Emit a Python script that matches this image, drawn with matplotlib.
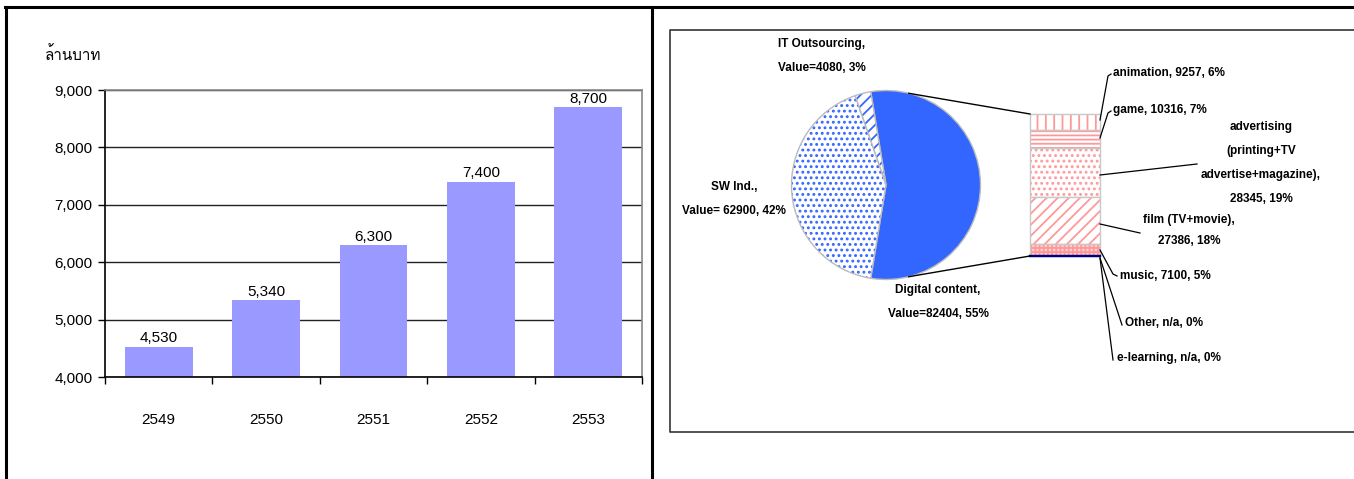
import numpy as np
import matplotlib
matplotlib.use('Agg')
import matplotlib.pyplot as plt
from matplotlib import font_manager
from matplotlib.lines import Line2D
from matplotlib.patches import Wedge
from fontTools.ttLib import TTFont

# bar chart data
years = ['2549', '2550', '2551', '2552', '2553']
revenue = [4530, 5340, 6300, 7400, 8700]
unit_label = 'ล้านบาท'

# pie data (ordered counter-clockwise from the bottom)
pie_names = ['Digital content', 'IT Outsourcing', 'SW Ind.']
pie_values = [82404, 4080, 62900]
pie_labels = ['Digital content,\nValue=82404, 55%',
              'IT Outsourcing,\nValue=4080, 3%',
              'SW Ind.,\nValue= 62900, 42%']

# breakdown of digital content (top to bottom in the bar)
sub_names = ['animation', 'game', 'advertising', 'film', 'music', 'Other', 'e-learning']
sub_values = [9257, 10316, 28345, 27386, 7100, 0, 0]
sub_labels = ['animation, 9257, 6%',
              'game, 10316, 7%',
              'advertising\n(printing+TV\nadvertise+magazine),\n28345, 19%',
              'film (TV+movie),\n27386, 18%',
              'music, 7100, 5%',
              'Other, n/a, 0%',
              'e-learning, n/a, 0%']


def find_thai_font():
    for f in font_manager.fontManager.ttflist:
        try:
            tt = TTFont(f.fname, fontNumber=0, lazy=True)
            if 0x0E25 in tt.getBestCmap():
                return f.name
        except Exception:
            pass
    return 'DejaVu Sans'


thai_font = find_thai_font()
plt.rcParams['font.family'] = ['Liberation Sans', thai_font, 'DejaVu Sans']
plt.rcParams['hatch.linewidth'] = 1.3

W, H = 1354, 479
fig = plt.figure(figsize=(W / 100, H / 100), dpi=100)


def fx(px):
    return px / W


def fy(py):
    return 1 - py / H


# outer frame and divider
for xs, ys in [([5, W + 5], [7, 7]), ([6, 6], [7, H + 5]), ([652, 652], [7, H + 5])]:
    fig.add_artist(Line2D([fx(x) for x in xs], [fy(y) for y in ys], color='black', lw=2.2))
# right panel box (runs off the right edge)
fig.add_artist(Line2D([fx(W + 5), fx(670), fx(670), fx(W + 5)],
                      [fy(30), fy(30), fy(432), fy(432)], color='#333333', lw=1.2))

# ---------------- bar chart ----------------
ax = fig.add_axes([fx(105), fy(377), fx(642) - fx(105), fy(90) - fy(377)])
x = np.arange(len(years))
bars = ax.bar(x, revenue, width=0.63, color='#9999FF', zorder=2)
ax.bar_label(bars, labels=[f'{v:,}' for v in revenue], padding=1, fontsize=11)
ax.set_ylim(4000, 9000)
ax.set_xlim(-0.5, len(years) - 0.5)
ax.set_yticks(np.arange(4000, 9001, 1000))
ax.set_yticklabels([f'{v:,}' for v in range(4000, 9001, 1000)], fontsize=11)
ax.yaxis.grid(True, color='#222222', lw=1)
ax.set_xticks(np.arange(-0.5, len(years)), [''] * (len(years) + 1))
ax.set_xticks(x, years, minor=True, fontsize=11)
ax.tick_params(axis='x', which='major', length=5, width=1, direction='out')
ax.tick_params(axis='x', which='minor', length=0, pad=26)
ax.tick_params(axis='y', length=5, width=1, direction='out', pad=4)
for side in ['top', 'right']:
    ax.spines[side].set_color('#888888')
    ax.spines[side].set_linewidth(1.2)
for side in ['left', 'bottom']:
    ax.spines[side].set_linewidth(1.2)
fig.text(fx(45), fy(55), unit_label, fontsize=11, va='center', ha='left')

# ---------------- bar of pie ----------------
X0, X1, Y0, Y1 = 670, W, 30, 432
pax = fig.add_axes([fx(X0), fy(Y1), fx(X1) - fx(X0), fy(Y0) - fy(Y1)])
pax.set_xlim(X0, X1)
pax.set_ylim(Y1, Y0)  # image-like coordinates, y downward
pax.axis('off')

cx, cy, r = 886, 185, 94.5
blue = '#3366FF'
fills = [dict(facecolor=blue, hatch=None), dict(facecolor='white', hatch='///'),
         dict(facecolor='white', hatch='...')]
total = sum(pie_values)
start = -99.3
# y axis points down, so mirror angles to keep counter-clockwise order on screen
for val, st in zip(pie_values, fills):
    span = 360 * val / total
    t1, t2 = -(start + span), -start
    pax.add_patch(Wedge((cx, cy), r, t1, t2, facecolor=st['facecolor'], hatch=st['hatch'],
                        edgecolor=blue, lw=0))
    pax.add_patch(Wedge((cx, cy), r, t1, t2, facecolor='none', edgecolor='#BBBBBB', lw=1))
    start += span

pie_label_pos = [(938, 302), (822, 56), (734, 199)]
for txt, (tx, ty) in zip(pie_labels, pie_label_pos):
    pax.text(tx, ty, txt, ha='center', va='center', fontsize=8.5, fontweight='bold',
             linespacing=2.3)

# stacked bar for the digital content breakdown
bx0, bx1, btop, bbot = 1030, 1100, 114, 256
pink = '#FF9999'
hatches = ['||', '----', '...', '///', '++++', None, None]
faces = ['white', 'white', 'white', 'white', '#FFD0D0', 'white', 'white']
scale = (bbot - btop) / sum(sub_values)
y = btop
for val, hat, fc in zip(sub_values, hatches, faces):
    h = val * scale
    if val > 0:
        pax.bar(bx0, h, width=bx1 - bx0, bottom=y, align='edge', facecolor=fc,
                hatch=hat, edgecolor=pink, lw=0)
        pax.bar(bx0, h, width=bx1 - bx0, bottom=y, align='edge', facecolor='none',
                edgecolor='#C8C8C8', lw=1)
    else:
        pax.plot([bx0, bx1], [y, y], color='#000080', lw=1.6)
    y += h

# connector lines from pie to bar
a = np.deg2rad(76)
pax.plot([cx + r * np.cos(a), bx0], [cy - r * np.sin(a), btop], color='black', lw=1)
pax.plot([cx + r * np.cos(a), bx0], [cy + r * np.sin(a), bbot], color='black', lw=1)

# breakdown labels with leader lines
label_pos = [(1113, 73, 'left'), (1113, 110, 'left'), (1261, 163, 'center'),
             (1189, 231, 'center'), (1120, 276, 'left'), (1125, 323, 'left'),
             (1117, 358, 'left')]
leaders = [[(1100, 120), (1108, 76), (1111, 74)],
           [(1100, 138), (1108, 113), (1111, 111)],
           [(1100, 175), (1197, 164)],
           [(1100, 224), (1140, 233)],
           [(1100, 250), (1113, 274), (1117, 276)],
           [(1100, 258), (1122, 325)],
           [(1100, 258), (1113, 360)]]
for txt, (tx, ty, ha), pts in zip(sub_labels, label_pos, leaders):
    ls = 2.3 if txt.startswith('advertising') else 2.0
    pax.text(tx, ty, txt, ha=ha, va='center', fontsize=8.5, fontweight='bold',
             linespacing=ls)
    px, py = zip(*pts)
    pax.plot(px, py, color='black', lw=0.9)

fig.savefig('out.png', dpi=100)
